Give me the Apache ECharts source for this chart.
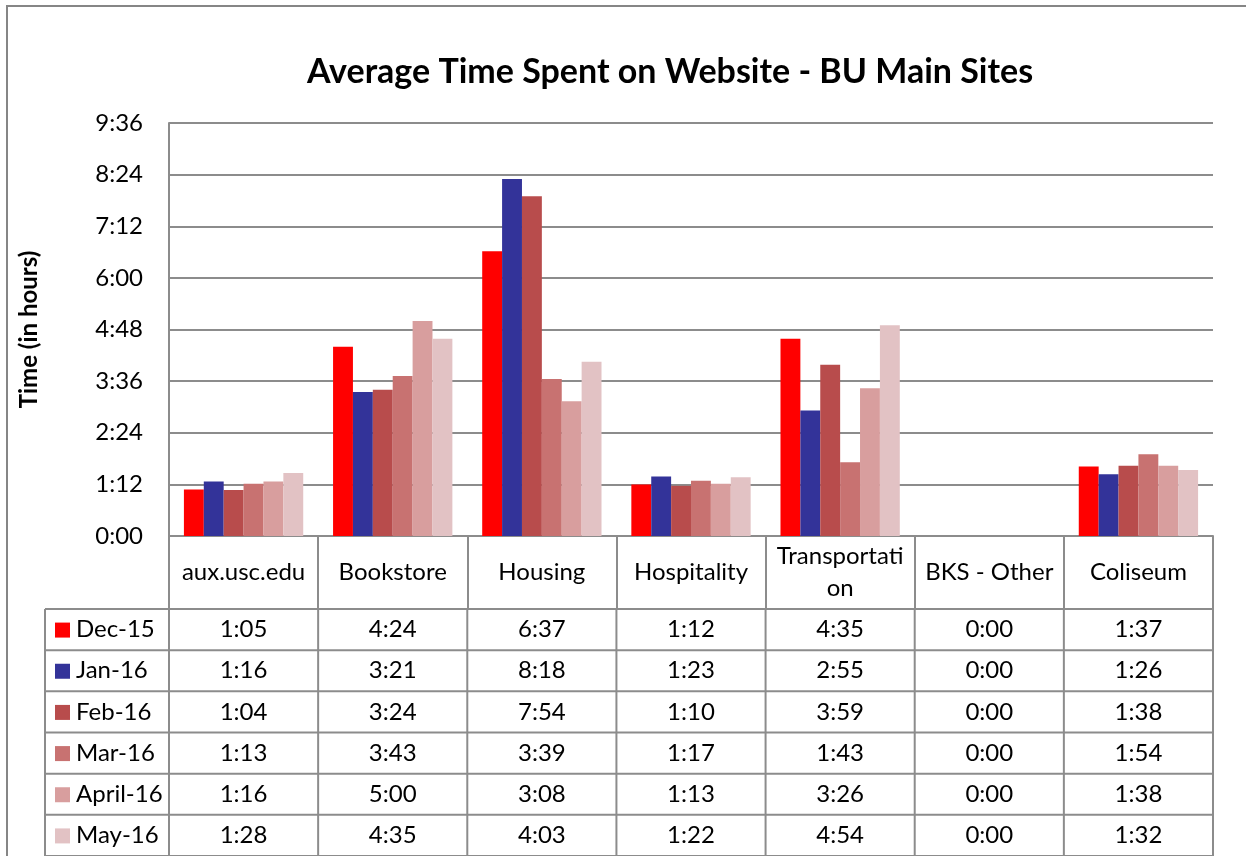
<!DOCTYPE html>
<html>
<head>
<meta charset="utf-8">
<script src="https://cdn.jsdelivr.net/npm/echarts@6/dist/echarts.min.js"></script>
<style>
  html, body { margin: 0; padding: 0; background: #fff; }
  #chart { width: 1246px; height: 856px; }
</style>
</head>
<body>
<div id="chart"></div>
<script>
var categories = ["aux.usc.edu", "Bookstore", "Housing", "Hospitality", "Transportation", "BKS - Other", "Coliseum"];
var seriesNames = ["Dec-15", "Jan-16", "Feb-16", "Mar-16", "April-16", "May-16"];
var dec15 = ["1:05", "4:24", "6:37", "1:12", "4:35", "0:00", "1:37"];
var jan16 = ["1:16", "3:21", "8:18", "1:23", "2:55", "0:00", "1:26"];
var feb16 = ["1:04", "3:24", "7:54", "1:10", "3:59", "0:00", "1:38"];
var mar16 = ["1:13", "3:43", "3:39", "1:17", "1:43", "0:00", "1:54"];
var apr16 = ["1:16", "5:00", "3:08", "1:13", "3:26", "0:00", "1:38"];
var may16 = ["1:28", "4:35", "4:03", "1:22", "4:54", "0:00", "1:32"];
var colors = ["#ff0000", "#333399", "#b84c4c", "#c87271", "#d89e9e", "#e2c2c4"];

var rows = [dec15, jan16, feb16, mar16, apr16, may16];
var FONT = "Lato, 'Open Sans', sans-serif";
var GRAY = "#8c8c8c";
var FS = 24;

function toMin(s) {
  var p = s.split(":");
  return parseInt(p[0], 10) * 60 + parseInt(p[1], 10);
}
function fmt(v) {
  var h = Math.floor(v / 60), m = Math.round(v % 60);
  return h + ":" + (m < 10 ? "0" : "") + m;
}

var chart = echarts.init(document.getElementById("chart"));

var series = seriesNames.map(function (name, i) {
  return {
    name: name,
    type: "bar",
    barGap: 0,
    barCategoryGap: "20%",
    itemStyle: { color: colors[i] },
    data: rows[i].map(toMin)
  };
});

chart.setOption({
  animation: false,
  grid: { left: 169, right: 33, top: 123, bottom: 320 },
  xAxis: {
    type: "category",
    data: categories,
    axisLine: { lineStyle: { color: GRAY, width: 2 } },
    axisTick: { show: true, length: 73, interval: 0, lineStyle: { color: GRAY, width: 2 } },
    axisLabel: {
      interval: 0,
      margin: 36,
      verticalAlign: "middle",
      fontFamily: FONT,
      fontSize: FS,
      color: "#000",
      lineHeight: 32,
      width: 136,
      overflow: "breakAll"
    }
  },
  yAxis: {
    type: "value",
    min: 0,
    max: 576,
    interval: 72,
    name: "Time (in hours)",
    nameLocation: "middle",
    nameGap: 128,
    nameTextStyle: { fontFamily: FONT, fontSize: 24, fontWeight: "bold", color: "#000" },
    axisLine: { show: true, lineStyle: { color: GRAY, width: 2 } },
    axisTick: { show: false },
    axisLabel: { fontFamily: FONT, fontSize: FS, color: "#000", margin: 26, formatter: fmt },
    splitLine: { lineStyle: { color: GRAY, width: 2 } }
  },
  series: series
});

// data table below the axis, placed from the axis' own category positions
var axisY = chart.convertToPixel({ yAxisIndex: 0 }, 0);
var headerBottom = axisY + 73;
var rowH = (856 - headerBottom) / 6;
var tableLeft = 45;
var step = chart.convertToPixel({ xAxisIndex: 0 }, 1) - chart.convertToPixel({ xAxisIndex: 0 }, 0);
var leftEdge = chart.convertToPixel({ xAxisIndex: 0 }, 0) - step / 2;
var rightEdge = leftEdge + step * categories.length;

var g = [];
g.push({ type: "rect", shape: { x: 7, y: 6, width: 1300, height: 900 }, style: { fill: null, stroke: "#868686", lineWidth: 2 }, silent: true });
g.push({
  type: "text", x: 670, y: 72,
  style: { text: "Average Time Spent on Website - BU Main Sites", fontFamily: FONT, fontSize: 34, fontWeight: "bold", fill: "#000", align: "center", verticalAlign: "middle" }
});
for (var r = 0; r <= 6; r++) {
  var yy = headerBottom + r * rowH;
  g.push({ type: "line", shape: { x1: tableLeft, y1: yy, x2: rightEdge, y2: yy }, style: { stroke: GRAY, lineWidth: 2 } });
}
g.push({ type: "line", shape: { x1: tableLeft, y1: headerBottom, x2: tableLeft, y2: 860 }, style: { stroke: GRAY, lineWidth: 2 } });
for (var c = 0; c <= categories.length; c++) {
  var xx = leftEdge + c * step;
  g.push({ type: "line", shape: { x1: xx, y1: headerBottom, x2: xx, y2: 860 }, style: { stroke: GRAY, lineWidth: 2 } });
}
rows.forEach(function (row, i) {
  var cy = headerBottom + (i + 0.5) * rowH;
  g.push({ type: "rect", shape: { x: 55, y: cy - 7, width: 15, height: 15 }, style: { fill: colors[i] } });
  g.push({ type: "text", x: 76, y: cy, style: { text: seriesNames[i], fontFamily: FONT, fontSize: FS, fill: "#000", verticalAlign: "middle" } });
  row.forEach(function (v, j) {
    var cx = chart.convertToPixel({ xAxisIndex: 0 }, j);
    g.push({ type: "text", x: cx, y: cy, style: { text: v, fontFamily: FONT, fontSize: FS, fill: "#000", align: "center", verticalAlign: "middle" } });
  });
});

chart.setOption({ graphic: g });
</script>
</body>
</html>
